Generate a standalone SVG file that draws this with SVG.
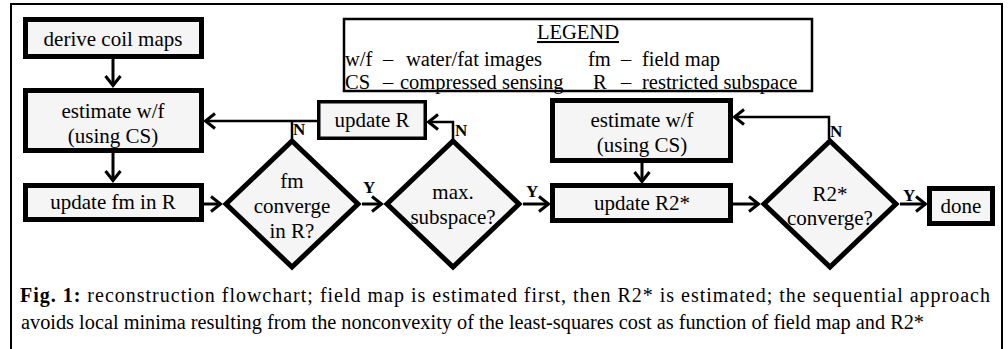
<svg xmlns="http://www.w3.org/2000/svg" width="1008" height="349" viewBox="0 0 1008 349" font-family="'Liberation Serif', 'Times New Roman', Times, serif">
<style>
text{font-family:'Liberation Serif','Times New Roman',Times,serif;fill:#000}
.box{fill:#f5f5f5;stroke:#000;stroke-width:5}
.dia{fill:#f5f5f5;stroke:#000;stroke-width:5;stroke-linejoin:miter}
.t{font-size:21px;text-anchor:middle}
.lbl{font-size:17px;font-weight:bold}
.lg{font-size:20.5px}
.con{fill:none;stroke:#000;stroke-width:3}
.fb{fill:none;stroke:#000;stroke-width:2.5}
</style>
<defs>
<marker id="arr" markerUnits="userSpaceOnUse" markerWidth="20" markerHeight="20" viewBox="-12 -10 14 20" refX="0" refY="0" orient="auto">
<path d="M-10,-7.5 L-0.5,0 L-10,7.5" fill="none" stroke="#000" stroke-width="3"/>
</marker>
</defs>
<rect x="11" y="4" width="991" height="360" fill="#fff" stroke="#000" stroke-width="2"/>
<g id="legend">
<rect x="344" y="19" width="468" height="72" fill="#fff" stroke="#000" stroke-width="2.5"/>
<text x="578" y="39" class="lg" text-anchor="middle" text-decoration="underline">LEGEND</text>
<text x="345" y="66" class="lg">w/f</text>
<text x="383" y="66" class="lg">–</text>
<text x="406" y="66" class="lg">water/fat images</text>
<text x="588" y="66" class="lg">fm</text>
<text x="621" y="66" class="lg">–</text>
<text x="642" y="66" class="lg">field map</text>
<text x="345" y="88.5" class="lg">CS</text>
<text x="383" y="88.5" class="lg">–</text>
<text x="400" y="88.5" class="lg">compressed sensing</text>
<text x="593" y="88.5" class="lg">R</text>
<text x="621" y="88.5" class="lg">–</text>
<text x="642" y="88.5" class="lg">restricted subspace</text>
</g>
<g id="connectors">
<line class="con" x1="113" y1="59" x2="113" y2="86" marker-end="url(#arr)"/>
<line class="con" x1="113" y1="153" x2="113" y2="181" marker-end="url(#arr)"/>
<line class="con" x1="204" y1="204" x2="221" y2="204" marker-end="url(#arr)"/>
<line class="con" x1="362" y1="204" x2="382" y2="204" marker-end="url(#arr)"/>
<line class="con" x1="523" y1="204" x2="549" y2="204" marker-end="url(#arr)"/>
<line class="con" x1="642" y1="163" x2="642" y2="182" marker-end="url(#arr)"/>
<line class="con" x1="733" y1="204" x2="759" y2="204" marker-end="url(#arr)"/>
<line class="con" x1="900" y1="204" x2="926" y2="204" marker-end="url(#arr)"/>
<line class="fb" x1="317" y1="121" x2="205" y2="121" marker-end="url(#arr)"/>
<polyline class="fb" points="292,139 292,121"/>
<polyline class="fb" points="453,139 453,122 428,122" marker-end="url(#arr)"/>
<polyline class="fb" points="829,139 829,117 734,117" marker-end="url(#arr)"/>
<text x="293" y="135" class="lbl">N</text>
<text x="455" y="136" class="lbl">N</text>
<text x="830" y="137" class="lbl">N</text>
<text x="363" y="193" class="lbl">Y</text>
<text x="526" y="197" class="lbl">Y</text>
<text x="903" y="201" class="lbl">Y</text>
</g>
<g id="derive">
<rect class="box" x="25.5" y="19.5" width="176" height="37"/>
<text class="t" x="113" y="46">derive coil maps</text>
</g>
<g id="estimate1">
<rect class="box" x="25.5" y="90.5" width="176" height="60"/>
<text class="t" x="113" y="118">estimate w/f</text>
<text class="t" x="113" y="143">(using CS)</text>
</g>
<g id="updatefm">
<rect class="box" x="25.5" y="185.5" width="176" height="34"/>
<text class="t" x="113" y="209">update fm in R</text>
</g>
<g id="updateR">
<rect x="318.75" y="101.75" width="106.5" height="36.5" fill="#f5f5f5" stroke="#000" stroke-width="3.5"/>
<text class="t" x="372" y="127">update R</text>
</g>
<g id="fmconv">
<path class="dia" d="M292,141 L358,204 L292,267 L226,204 Z"/>
<text class="t" x="292" y="188">fm</text>
<text class="t" x="292" y="213">converge</text>
<text class="t" x="292" y="238">in R?</text>
</g>
<g id="maxsub">
<path class="dia" d="M453,141 L519,204 L453,267 L387,204 Z"/>
<text class="t" x="453" y="199">max.</text>
<text class="t" x="453" y="224">subspace?</text>
</g>
<g id="estimate2">
<rect class="box" x="552.5" y="100.5" width="178" height="60"/>
<text class="t" x="642" y="127">estimate w/f</text>
<text class="t" x="642" y="152">(using CS)</text>
</g>
<g id="updateR2">
<rect class="box" x="552.5" y="185.5" width="178" height="35"/>
<text class="t" x="642" y="210">update R2*</text>
</g>
<g id="r2conv">
<path class="dia" d="M830,141 L896,204 L830,267 L764,204 Z"/>
<text class="t" x="830" y="201">R2*</text>
<text class="t" x="830" y="225">converge?</text>
</g>
<g id="done">
<rect class="box" x="929.5" y="188.5" width="63" height="35"/>
<text class="t" x="961" y="213">done</text>
</g>
<g id="caption">
<text x="20" y="302" font-size="20" textLength="970" lengthAdjust="spacing"><tspan font-weight="bold">Fig. 1:</tspan> reconstruction flowchart; field map is estimated first, then R2* is estimated; the sequential approach</text>
<text x="21" y="329" font-size="20" textLength="903" lengthAdjust="spacingAndGlyphs">avoids local minima resulting from the nonconvexity of the least-squares cost as function of field map and R2*</text>
</g>
</svg>
